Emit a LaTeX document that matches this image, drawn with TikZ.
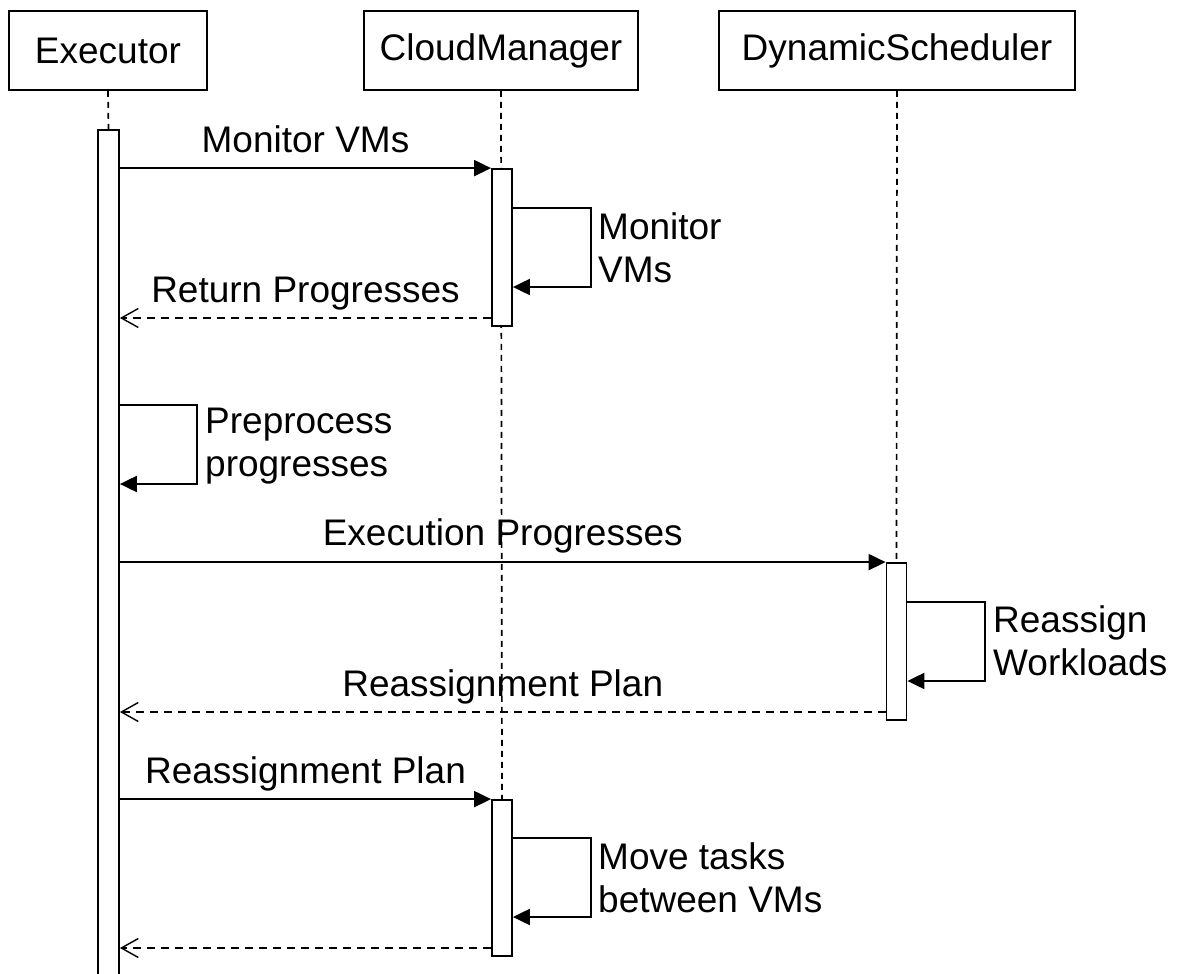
\documentclass[tikz,border=0pt]{standalone}
\usepackage{fontspec}
\setmainfont{Liberation Sans}
\usetikzlibrary{arrows.meta}
\begin{document}
\begin{tikzpicture}[x=1pt,y=-1pt,
  every node/.style={font=\fontsize{37}{43}\selectfont},
  actor/.style={draw, line width=1.8pt, minimum height=79pt, inner sep=0pt},
  bar/.style={draw, fill=white, line width=1.8pt, minimum width=20pt, inner sep=0pt},
  life/.style={line width=1.7pt, dash pattern=on 6pt off 5pt},
  call/.style={line width=2pt, -{Triangle[length=17pt,width=16pt]}},
  reply/.style={line width=1.8pt, dash pattern=on 8pt off 6pt,
    -{Straight Barb[length=17pt,width=19pt,line width=1.4pt]}},
  msglabel/.style={midway, anchor=base, yshift=16pt, inner sep=0pt},
  looplabel/.style={anchor=north west, align=left, inner sep=0pt}
]
\useasboundingbox (0,0) rectangle (1179,974);

% participants
\node[actor, minimum width=198pt] (exec) at (108,50.5) {Executor};
\node[actor, minimum width=274pt] (cm) at (501,50.5) {CloudManager};
\node[actor, minimum width=356pt] (ds) at (897,50.5) {DynamicScheduler};

% lifelines, drawn beneath the activation bars
\coordinate (exbarpos) at (108.5,565);
\draw[life] (exec.south) -- (108.5,130);
\draw[life] (cm.south) -- (502,800);
\draw[life] (ds.south) -- (896.5,563);

\node[bar, minimum width=21pt, minimum height=870pt] (exbar) at (exbarpos) {};
\node[bar, minimum height=157pt] (cm1) at (502,247.5) {};
\node[bar, minimum height=157pt] (ds1) at (896.5,641.5) {};
\node[bar, minimum height=156pt] (cm2) at (502,878) {};

% Monitor VMs
\draw[call] (exbar.east |- cm1.north) -- (cm1.north west)
  node[msglabel] (l1) {Monitor VMs};
\draw[call] (cm1.east |- 0,208) -- (591,208) -- (591,287) -- (cm1.east |- 0,287);
\node[looplabel] (l2) at (598,212) {Monitor\\VMs};
\draw[reply] (cm1.west |- 0,318) -- (exbar.east |- 0,318)
  node[msglabel] (l3) {Return Progresses};

% Preprocess progresses
\draw[call] (exbar.east |- 0,405) -- (197,405) -- (197,484) -- (exbar.east |- 0,484);
\node[looplabel] (l4) at (205,408) {Preprocess\\progresses};

% Execution Progresses
\draw[call] (exbar.east |- ds1.north) -- (ds1.north west)
  node[msglabel, yshift=1pt] (l5) {Execution Progresses};
\draw[call] (ds1.east |- 0,602) -- (985,602) -- (985,681) -- (ds1.east |- 0,681);
\node[looplabel] (l6) at (993,605) {Reassign\\Workloads};
\draw[reply] (ds1.west |- 0,712) -- (exbar.east |- 0,712)
  node[msglabel] (l7) {Reassignment Plan};

% Reassignment Plan to CloudManager
\draw[call] (exbar.east |- cm2.north) -- (cm2.north west)
  node[msglabel] (l8) {Reassignment Plan};
\draw[call] (cm2.east |- 0,838) -- (591,838) -- (591,917) -- (cm2.east |- 0,917);
\node[looplabel] (l9) at (598,842) {Move tasks\\between VMs};
\draw[reply] (cm2.west |- 0,948) -- (exbar.east |- 0,948);
\end{tikzpicture}
\end{document}
